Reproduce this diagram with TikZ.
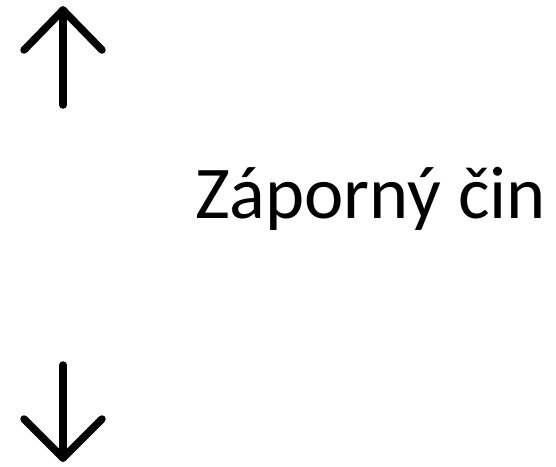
\documentclass[tikz,border=0pt]{standalone}
\usepackage{fontspec}
\setmainfont{Carlito}
\begin{document}
\begin{tikzpicture}[x=1pt,y=-1pt,
  arr/.style={line width=7.5pt,line cap=round,line join=round},
  lbl/.style={font=\fontsize{74.5}{88}\selectfont,inner sep=0pt,anchor=base west}]
\useasboundingbox (0,0) rectangle (556,466);
% up arrow
\coordinate (utip) at (63,10);
\coordinate (ubot) at (63,105);
\coordinate (ul) at (24,50);
\coordinate (ur) at (102,50);
\draw[arr] (ubot) -- (utip);
\draw[arr] (ul) -- (utip) -- (ur);
% down arrow
\coordinate (dtop) at (63,365);
\coordinate (dtip) at (63,458);
\coordinate (dl) at (24,419);
\coordinate (dr) at (102,419);
\draw[arr] (dtop) -- (dtip);
\draw[arr] (dl) -- (dtip) -- (dr);
\node[lbl] (t) at (195,218) {Záporný čin};
\end{tikzpicture}
\end{document}
